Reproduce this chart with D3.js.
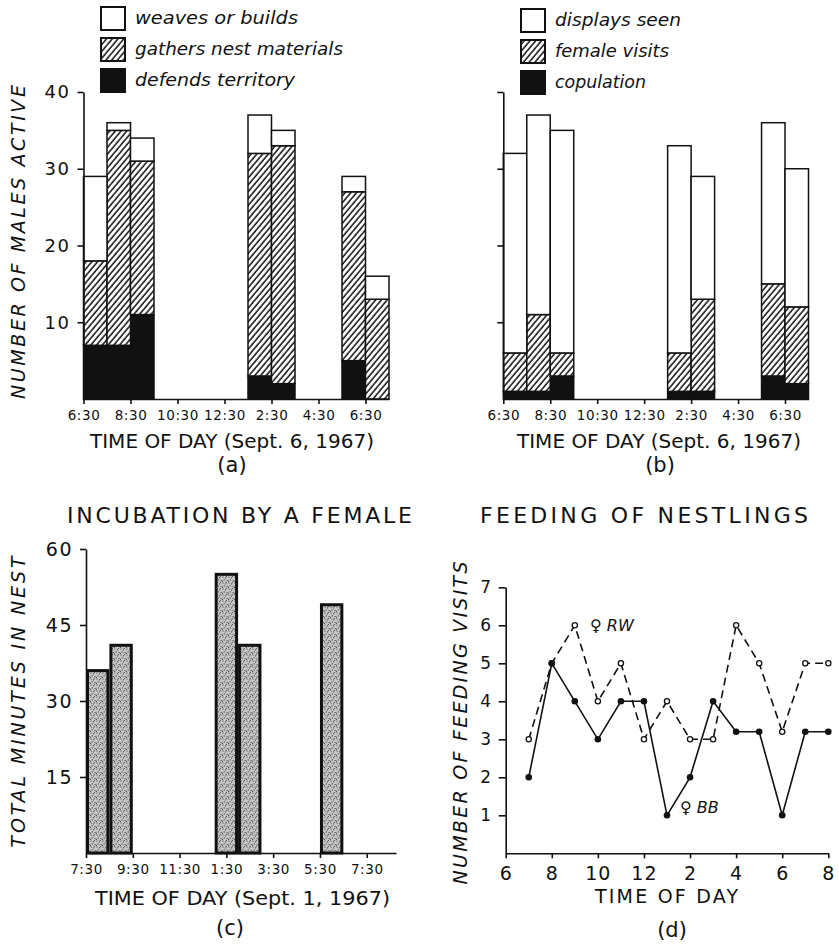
<!DOCTYPE html>
<html>
<head>
<meta charset="utf-8">
<script src="https://cdn.jsdelivr.net/npm/d3@7"></script>
<style>
  body { margin: 0; background: #fff; }
  text { font-family: "DejaVu Sans", sans-serif; fill: #111; }
  .axis path, .axis line { stroke: #111; stroke-width: 1.6; }
  .ital { font-style: italic; }
</style>
</head>
<body>
<script>
// (a) males active, bars start on the hour given (each bar one hour wide)
const timeAB = [6.5, 7.5, 8.5, 13.5, 14.5, 17.5, 18.5];
const defends = [7, 7, 11, 3, 2, 5, 0];
const gathers = [11, 28, 20, 29, 31, 22, 13];
const weaves = [11, 1, 3, 5, 2, 2, 3];
// (b)
const copulation = [1, 1, 3, 1, 1, 3, 2];
const femaleVisits = [5, 10, 3, 5, 12, 12, 10];
const displays = [26, 26, 29, 27, 16, 21, 18];
const tickHoursAB = [6.5, 8.5, 10.5, 12.5, 14.5, 16.5, 18.5];
const tickLabelsAB = ['6:30', '8:30', '10:30', '12:30', '2:30', '4:30', '6:30'];
// (c) incubation
const timeC = [7.5, 8.5, 13, 14, 17.5];
const minutesC = [36, 41, 55, 41, 49];
const tickHoursC = [7.5, 9.5, 11.5, 13.5, 15.5, 17.5, 19.5];
const tickLabelsC = ['7:30', '9:30', '11:30', '1:30', '3:30', '5:30', '7:30'];
// (d) feeding visits
const hoursD = [7, 8, 9, 10, 11, 12, 13, 14, 15, 16, 17, 18, 19, 20];
const visitsBB = [2, 5, 4, 3, 4, 4, 1, 2, 4, 3.2, 3.2, 1, 3.2, 3.2];
const visitsRW = [3, 5, 6, 4, 5, 3, 4, 3, 3, 6, 5, 3.2, 5, 5];
const tickHoursD = [6, 8, 10, 12, 14, 16, 18, 20];
const tickLabelsD = ['6', '8', '10', '12', '2', '4', '6', '8'];

const svg = d3.select('body').append('svg')
    .attr('width', 839)
    .attr('height', 945);

let defs = svg.append('defs');
let hatch = defs.append('pattern') // diagonal hatch
    .attr('id', 'hatch')
    .attr('patternUnits', 'userSpaceOnUse')
    .attr('width', 4.4).attr('height', 4.4)
    .attr('patternTransform', 'rotate(40)');
hatch.append('rect').attr('width', 4.4).attr('height', 4.4).attr('fill', '#fff');
hatch.append('line').attr('x1', 1).attr('x2', 1).attr('y1', 0).attr('y2', 4.4)
    .attr('stroke', '#111').attr('stroke-width', 1.5);
let stip = defs.append('pattern') // stippled grey for (c)
    .attr('id', 'stipple')
    .attr('patternUnits', 'userSpaceOnUse')
    .attr('width', 6).attr('height', 6);
stip.append('rect').attr('width', 6).attr('height', 6).attr('fill', '#c6c6c6');
[[1, 1], [3.6, 1.8], [2.2, 3.9], [5.1, 4.6], [0.4, 5.3], [4.4, 0.2]].forEach(function(p) {
    stip.append('circle').attr('cx', p[0]).attr('cy', p[1]).attr('r', 0.6).attr('fill', '#333');
});

function styleAxis(g, size) {
    g.attr('class', 'axis');
    g.selectAll('text').attr('font-size', size).attr('letter-spacing', 1.5)
        .style('font-family', '"DejaVu Sans", sans-serif').attr('fill', '#111');
}

function stackedPanel(o) {
    let x = d3.scaleLinear().domain([6.5, 19.5]).range(o.xr);
    let y = d3.scaleLinear().domain([0, 40]).range([399, 92]);
    let rows = timeAB.map(function(t, i) {
        let r = {t: t};
        o.keys.forEach(function(k, j) { r[k] = o.series[j][i]; });
        return r;
    });
    let layers = d3.stack().keys(o.keys)(rows);
    let g = svg.append('g');
    layers.forEach(function(layer, j) {
        g.selectAll(null).data(layer).enter().append('rect')
            .attr('x', function(d) { return x(d.data.t); })
            .attr('width', function(d) { return x(d.data.t + 1) - x(d.data.t); })
            .attr('y', function(d) { return y(d[1]); })
            .attr('height', function(d) { return y(d[0]) - y(d[1]); })
            .attr('fill', o.fills[j])
            .attr('stroke', '#111')
            .attr('stroke-width', 1.5)
            .attr('display', function(d) { return d[1] > d[0] ? null : 'none'; });
    });
    let ya = svg.append('g') // y axis
        .attr('transform', 'translate(' + o.xr[0] + ',0)')
        .call(d3.axisLeft(y).tickValues([10, 20, 30, 40]).tickSize(6).tickSizeOuter(0).tickPadding(7)
            .tickFormat(o.yLabels ? d3.format('d') : ''));
    styleAxis(ya, 18);
    let xa = svg.append('g') // x axis
        .attr('transform', 'translate(0,399)')
        .call(d3.axisBottom(x).tickValues(tickHoursAB).tickSize(5).tickSizeOuter(0).tickPadding(6)
            .tickFormat(function(d, i) { return tickLabelsAB[i]; }));
    styleAxis(xa, 13.5);
    xa.selectAll('text').attr('letter-spacing', 0.6);
    // legend
    o.legend.forEach(function(txt, j) {
        let ly = o.legY + j * 31;
        svg.append('rect')
            .attr('x', o.legX).attr('y', ly)
            .attr('width', 24).attr('height', 23)
            .attr('fill', o.fills[2 - j])
            .attr('stroke', '#111').attr('stroke-width', 2);
        svg.append('text')
            .attr('class', 'ital')
            .attr('x', o.legX + 34).attr('y', ly + 17)
            .attr('font-size', 17.5)
            .attr('textLength', o.legW[j])
            .attr('lengthAdjust', 'spacingAndGlyphs')
            .text(txt);
    });
    svg.append('text') // x title
        .attr('x', o.titleX).attr('y', 448)
        .attr('font-size', 19)
        .attr('textLength', 284)
        .attr('lengthAdjust', 'spacingAndGlyphs')
        .text('TIME OF DAY  (Sept. 6, 1967)');
    svg.append('text')
        .attr('x', o.letterX).attr('y', 472)
        .attr('text-anchor', 'middle')
        .attr('font-size', 21)
        .text(o.letter);
}

stackedPanel({
    xr: [83.5, 389], keys: ['defends', 'gathers', 'weaves'],
    series: [defends, gathers, weaves], fills: ['#111', 'url(#hatch)', '#fff'],
    yLabels: true,
    legend: ['weaves or builds', 'gathers nest materials', 'defends territory'],
    legW: [163, 208, 160], legX: 101, legY: 7,
    titleX: 90, letterX: 232, letter: '(a)'
});
stackedPanel({
    xr: [503.3, 808.5], keys: ['copulation', 'female', 'displays'],
    series: [copulation, femaleVisits, displays], fills: ['#111', 'url(#hatch)', '#fff'],
    yLabels: false,
    legend: ['displays seen', 'female visits', 'copulation'],
    legW: [126, 114, 91], legX: 521, legY: 9,
    titleX: 517, letterX: 660, letter: '(b)'
});

svg.append('text') // y label (a)
    .attr('class', 'ital')
    .attr('transform', 'translate(25,242) rotate(-90)')
    .attr('text-anchor', 'middle')
    .attr('font-size', 19)
    .attr('textLength', 314)
    .attr('lengthAdjust', 'spacing')
    .text('NUMBER OF MALES ACTIVE');

// (c) incubation
let xc = d3.scaleLinear().domain([7.5, 20.75]).range([86, 396]);
let yc = d3.scaleLinear().domain([0, 60]).range([853, 549]);
svg.append('g').selectAll(null).data(timeC).enter().append('rect')
    .attr('x', function(d) { return xc(d) + 1.5; })
    .attr('width', function(d) { return xc(d + 1) - xc(d) - 3; })
    .attr('y', function(d, i) { return yc(minutesC[i]); })
    .attr('height', function(d, i) { return yc(0) - yc(minutesC[i]); })
    .attr('fill', 'url(#stipple)')
    .attr('stroke', '#111')
    .attr('stroke-width', 3);
let yca = svg.append('g')
    .attr('transform', 'translate(86,0)')
    .call(d3.axisLeft(yc).tickValues([15, 30, 45, 60]).tickSize(6).tickSizeOuter(0).tickPadding(7));
styleAxis(yca, 19);
let xca = svg.append('g')
    .attr('transform', 'translate(0,853)')
    .call(d3.axisBottom(xc).tickValues(tickHoursC).tickSize(5).tickSizeOuter(0).tickPadding(6)
        .tickFormat(function(d, i) { return tickLabelsC[i]; }));
styleAxis(xca, 13.5);
xca.selectAll('text').attr('letter-spacing', 0.6);
svg.append('text')
    .attr('x', 67).attr('y', 523)
    .attr('font-size', 22)
    .attr('textLength', 345)
    .attr('lengthAdjust', 'spacing')
    .text('INCUBATION BY A FEMALE');
svg.append('text')
    .attr('class', 'ital')
    .attr('transform', 'translate(25,702) rotate(-90)')
    .attr('text-anchor', 'middle')
    .attr('font-size', 19)
    .attr('textLength', 291)
    .attr('lengthAdjust', 'spacing')
    .text('TOTAL MINUTES IN NEST');
svg.append('text')
    .attr('x', 95).attr('y', 905)
    .attr('font-size', 19)
    .attr('textLength', 295)
    .attr('lengthAdjust', 'spacingAndGlyphs')
    .text('TIME OF DAY  (Sept. 1, 1967)');
svg.append('text')
    .attr('x', 230).attr('y', 935)
    .attr('text-anchor', 'middle')
    .attr('font-size', 21)
    .text('(c)');

// (d) feeding of nestlings
let xd = d3.scaleLinear().domain([6, 20]).range([505.7, 828.3]);
let yd = d3.scaleLinear().domain([0, 7]).range([853.3, 587.3]);
let lineD = d3.line()
    .x(function(d) { return xd(d[0]); })
    .y(function(d) { return yd(d[1]); });
svg.append('path')
    .datum(d3.zip(hoursD, visitsRW))
    .attr('fill', 'none').attr('stroke', '#111').attr('stroke-width', 1.6)
    .attr('stroke-dasharray', '8,5')
    .attr('d', lineD);
svg.append('path')
    .datum(d3.zip(hoursD, visitsBB))
    .attr('fill', 'none').attr('stroke', '#111').attr('stroke-width', 1.6)
    .attr('d', lineD);
svg.append('g').selectAll(null).data(d3.zip(hoursD, visitsRW)).enter().append('circle')
    .attr('cx', function(d) { return xd(d[0]); })
    .attr('cy', function(d) { return yd(d[1]); })
    .attr('r', 2.6)
    .attr('fill', '#fff').attr('stroke', '#111').attr('stroke-width', 1.3);
svg.append('g').selectAll(null).data(d3.zip(hoursD, visitsBB)).enter().append('circle')
    .attr('cx', function(d) { return xd(d[0]); })
    .attr('cy', function(d) { return yd(d[1]); })
    .attr('r', 3.3)
    .attr('fill', '#111');
let yda = svg.append('g')
    .attr('transform', 'translate(505.7,0)')
    .call(d3.axisLeft(yd).tickValues([1, 2, 3, 4, 5, 6, 7]).tickSize(7).tickSizeOuter(0).tickPadding(6)
        .tickFormat(d3.format('d')));
styleAxis(yda, 17);
let xda = svg.append('g')
    .attr('transform', 'translate(0,853.3)')
    .call(d3.axisBottom(xd).tickValues(tickHoursD).tickSize(5).tickSizeOuter(0).tickPadding(8)
        .tickFormat(function(d, i) { return tickLabelsD[i]; }));
styleAxis(xda, 19);
xda.selectAll('text').attr('letter-spacing', 1);
svg.append('text')
    .attr('class', 'ital')
    .attr('x', 590).attr('y', 631)
    .attr('font-size', 16)
    .text('\u2640 RW');
svg.append('text')
    .attr('class', 'ital')
    .attr('x', 680).attr('y', 813)
    .attr('font-size', 16)
    .text('\u2640 BB');
svg.append('text')
    .attr('x', 480).attr('y', 523)
    .attr('font-size', 22)
    .attr('textLength', 328)
    .attr('lengthAdjust', 'spacing')
    .text('FEEDING OF NESTLINGS');
svg.append('text')
    .attr('class', 'ital')
    .attr('transform', 'translate(467,723) rotate(-90)')
    .attr('text-anchor', 'middle')
    .attr('font-size', 19)
    .attr('textLength', 323)
    .attr('lengthAdjust', 'spacing')
    .text('NUMBER OF FEEDING VISITS');
svg.append('text')
    .attr('x', 595).attr('y', 903)
    .attr('font-size', 19)
    .attr('textLength', 143)
    .attr('lengthAdjust', 'spacing')
    .text('TIME OF DAY');
svg.append('text')
    .attr('x', 672).attr('y', 937)
    .attr('text-anchor', 'middle')
    .attr('font-size', 21)
    .text('(d)');
</script>
</body>
</html>
